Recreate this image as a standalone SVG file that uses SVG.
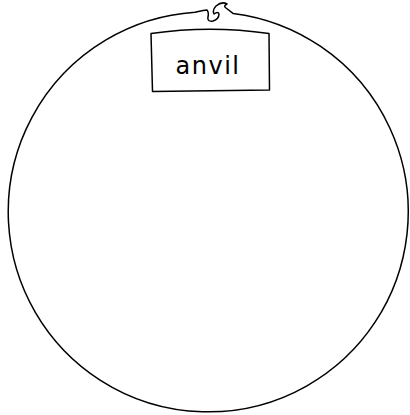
<svg xmlns="http://www.w3.org/2000/svg" width="410" height="415" viewBox="0 0 410 415">
<style>
.ln{fill:none;stroke:#000;stroke-width:1.5;stroke-linejoin:round;stroke-linecap:round}
.lbl{font-family:"DejaVu Sans",sans-serif;font-size:24px;fill:#000}
</style>
<rect width="410" height="415" fill="#fff"/>
<g id="circle">
<path class="ln" d="M 203 10.5 L 195 12.3 A 200 200 0 1 0 233 13.4 L 226 8 Q 223 6 227 4 Q 222 1 216 6 Q 212 10 214 14 Q 218 11 219 14 Q 219 19 213 21 Q 207 22 208 17 Q 209 12 207 10 Z"/>
</g>
<g id="anvil">
<path class="ln" d="M 151 33.5 Q 210 25 269 33.5 L 269.5 90 L 152.5 91.5 Z"/>
<text class="lbl" x="208" y="74" text-anchor="middle" letter-spacing="1.5">anvil</text>
</g>
</svg>
